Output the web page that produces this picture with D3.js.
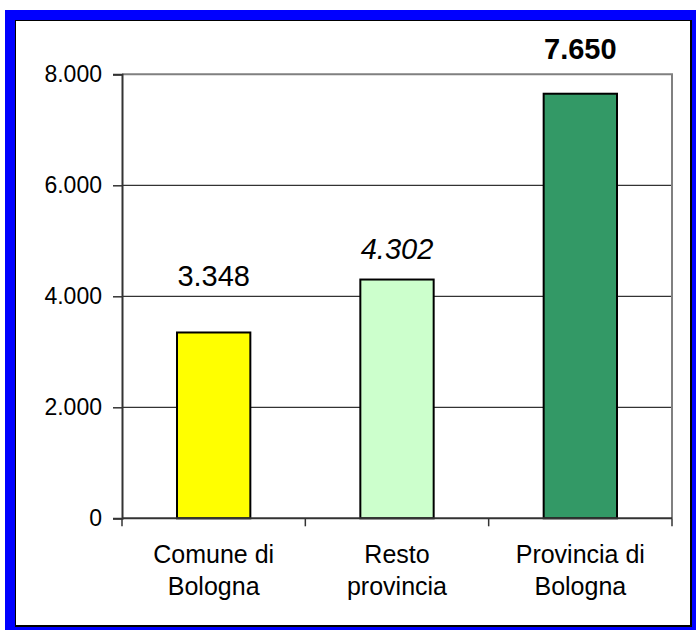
<!DOCTYPE html>
<html>
<head>
<meta charset="utf-8">
<script src="https://cdn.jsdelivr.net/npm/d3@7/dist/d3.min.js"></script>
<style>
  html, body { margin: 0; padding: 0; background: #fff; }
  svg { display: block; }
  text { font-family: "Liberation Sans", Arial, sans-serif; fill: #000; }
</style>
</head>
<body>
<svg id="chart" width="696" height="630"></svg>
<script>
// ---- data ----
const categories = [["Comune di", "Bologna"], ["Resto", "provincia"], ["Provincia di", "Bologna"]];
const categoryKeys = ["Comune di Bologna", "Resto provincia", "Provincia di Bologna"];
const values = [3348, 4302, 7650];
const valueLabels = ["3.348", "4.302", "7.650"];
const yTicks = [0, 2000, 4000, 6000, 8000];
const yTickLabels = ["0", "2.000", "4.000", "6.000", "8.000"];

// ---- styles / layout (not data) ----
const barColors = ["#FFFF00", "#CCFFCC", "#339966"];
const labelStyles = [
  { weight: "normal", style: "normal", offset: 46 },
  { weight: "normal", style: "italic", offset: 21 },
  { weight: "bold", style: "normal", offset: 35 }
];

const svg = d3.select("#chart");

// frame
svg.append("rect").attr("x", 5).attr("y", 10).attr("width", 691).attr("height", 620).attr("fill", "#0000FF");
svg.append("rect").attr("x", 15).attr("y", 20).attr("width", 677).attr("height", 607).attr("fill", "#000");
svg.append("rect").attr("x", 16).attr("y", 21).attr("width", 674).attr("height", 604).attr("fill", "#fff");

const pLeft = 122, pRight = 672, pTop = 74.3, pBottom = 518.3;

const x = d3.scaleBand().domain(categoryKeys).range([pLeft, pRight]).paddingInner(0.6).paddingOuter(0.3);
const xBound = d3.scaleBand().domain(categoryKeys).range([pLeft, pRight]).padding(0);
const y = d3.scaleLinear().domain([0, 8000]).range([pBottom, pTop]);

// gridlines
svg.append("g").selectAll("line").data(yTicks.filter(t => t > 0 && t < 8000)).join("line")
  .attr("x1", pLeft).attr("x2", pRight)
  .attr("y1", d => y(d)).attr("y2", d => y(d))
  .attr("stroke", "#000").attr("stroke-width", 1);

// plot area border top & right (grey)
svg.append("path")
  .attr("d", `M${pLeft},${y(8000)}H${pRight}V${pBottom}`)
  .attr("fill", "none").attr("stroke", "#808080").attr("stroke-width", 2);

// bars
svg.append("g").selectAll("rect").data(values).join("rect")
  .attr("x", (d, i) => x(categoryKeys[i]))
  .attr("width", x.bandwidth())
  .attr("y", d => y(d))
  .attr("height", d => y(0) - y(d))
  .attr("fill", (d, i) => barColors[i])
  .attr("stroke", "#000").attr("stroke-width", 2);

// y axis
const yAxis = d3.axisLeft(y).tickValues(yTicks).tickSize(9).tickPadding(11)
  .tickFormat((d, i) => yTickLabels[i]);
const gy = svg.append("g").attr("transform", `translate(${pLeft},0)`).call(yAxis);
gy.select(".domain").attr("stroke", "#333").attr("stroke-width", 2);
gy.selectAll(".tick line").attr("stroke", "#333").attr("stroke-width", 1.5);
gy.selectAll(".tick text").attr("font-size", 23).attr("font-family", "Liberation Sans, Arial, sans-serif").attr("fill", "#000");

// x axis
const gx = svg.append("g").attr("transform", `translate(0,${pBottom})`);
gx.append("line").attr("x1", pLeft).attr("x2", pRight).attr("y1", 0).attr("y2", 0)
  .attr("stroke", "#333").attr("stroke-width", 2);
const bounds = categoryKeys.map(k => xBound(k)).concat([pRight]);
gx.selectAll("line.tk").data(bounds).join("line").attr("class", "tk")
  .attr("x1", d => d).attr("x2", d => d).attr("y1", 0).attr("y2", 8)
  .attr("stroke", "#333").attr("stroke-width", 1.5);

const catText = svg.append("g").selectAll("text").data(categories).join("text")
  .attr("text-anchor", "middle")
  .attr("font-size", 25)
  .attr("x", (d, i) => x(categoryKeys[i]) + x.bandwidth() / 2)
  .attr("y", 563);
catText.each(function(d) {
  const t = d3.select(this);
  const xx = t.attr("x");
  d.forEach((line, j) => {
    t.append("tspan").attr("x", xx).attr("dy", j === 0 ? 0 : 32).text(line);
  });
});

// value labels
svg.append("g").selectAll("text").data(values).join("text")
  .attr("text-anchor", "middle")
  .attr("font-size", 29)
  .attr("font-weight", (d, i) => labelStyles[i].weight)
  .attr("font-style", (d, i) => labelStyles[i].style)
  .attr("x", (d, i) => x(categoryKeys[i]) + x.bandwidth() / 2)
  .attr("y", (d, i) => y(d) - labelStyles[i].offset)
  .text((d, i) => valueLabels[i]);
</script>
</body>
</html>
